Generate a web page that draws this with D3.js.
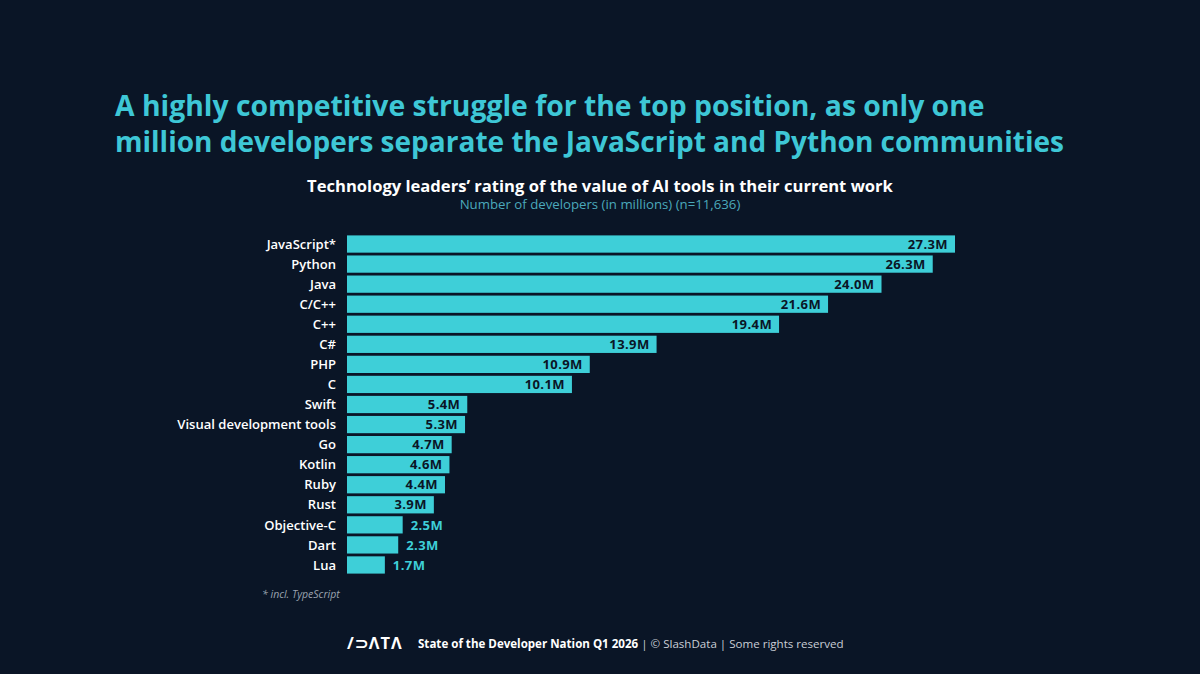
<!DOCTYPE html>
<html>
<head>
<meta charset="utf-8">
<script src="https://cdn.jsdelivr.net/npm/d3@7"></script>
<style>
  html, body { margin: 0; padding: 0; background: #0a1526; }
  svg { display: block; }
</style>
</head>
<body>
<div id="chart"></div>
<script>
// data
const languages = ['JavaScript*', 'Python', 'Java', 'C/C++', 'C++', 'C#', 'PHP', 'C', 'Swift',
    'Visual development tools', 'Go', 'Kotlin', 'Ruby', 'Rust', 'Objective-C', 'Dart', 'Lua'];
const developers = [27.3, 26.3, 24.0, 21.6, 19.4, 13.9, 10.9, 10.1, 5.4, 5.3, 4.7, 4.6, 4.4, 3.9, 2.5, 2.3, 1.7];
const titleLines = [
    'A highly competitive struggle for the top position, as only one',
    'million developers separate the JavaScript and Python communities'
];
const chartTitle = 'Technology leaders\u2019 rating of the value of AI tools in their current work';
const chartSubtitle = 'Number of developers (in millions) (n=11,636)';
const footnote = '* incl. TypeScript';

const W = 1200, H = 674;
const bg = '#0a1526', cyan = '#3ecfd8', titleCyan = '#3ec7d6';
const font = '"Open Sans", "Noto Sans", sans-serif';

const svg = d3.select('#chart').append('svg')
    .attr('width', W)
    .attr('height', H)
    .attr('viewBox', `0 0 ${W} ${H}`);

svg.append('rect').attr('width', W).attr('height', H).attr('fill', bg);

// fit a text element to a given width by nudging its font size
function fitWidth(sel, target) {
    const size = parseFloat(sel.attr('font-size'));
    const len = sel.node().getComputedTextLength();
    const s = size * target / len;
    sel.attr('font-size', s.toFixed(2));
    return s;
}

//************** TITLES ******************//
const t1 = svg.append('text').attr('x', 115).attr('y', 116)
    .attr('font-family', font).attr('font-weight', 700).attr('font-size', 26)
    .attr('fill', titleCyan).text(titleLines[0]);
fitWidth(t1, 870);
const t2 = svg.append('text').attr('x', 115).attr('y', 152)
    .attr('font-family', font).attr('font-weight', 700).attr('font-size', 26)
    .attr('fill', titleCyan).text(titleLines[1]);
fitWidth(t2, 949);

const ct = svg.append('text').attr('x', 600).attr('y', 192).attr('text-anchor', 'middle')
    .attr('font-family', font).attr('font-weight', 700).attr('font-size', 16)
    .attr('fill', '#ffffff').text(chartTitle);
fitWidth(ct, 586);

const st = svg.append('text').attr('x', 600).attr('y', 209).attr('text-anchor', 'middle')
    .attr('font-family', font).attr('font-size', 12)
    .attr('fill', '#4aa9bb').text(chartSubtitle);
fitWidth(st, 281);

//************** SCALES ******************//
const xScale = d3.scaleLinear()
    .domain([0, 27.3])
    .range([347, 955]);

const yScale = d3.scaleBand()
    .domain(languages)
    .range([234, 575])
    .paddingInner(0.14)
    .paddingOuter(0.07);

const rows = languages.map((k, i) => ({ key: k, value: developers[i] }));

// work out label sizes from the widest strings in the reference
const probe = svg.append('text').attr('font-family', font).attr('font-weight', 600)
    .attr('font-size', 12).text('Visual development tools');
const labelSize = fitWidth(probe, 159);
probe.attr('font-weight', 700).attr('font-size', 12).text('27.3M');
const valueSize = Math.min(fitWidth(probe, 40), 13);
probe.remove();

// category labels
svg.append('g').selectAll('text')
    .data(rows)
    .join('text')
    .attr('x', 336)
    .attr('y', d => yScale(d.key) + yScale.bandwidth() / 2)
    .attr('dy', '0.36em')
    .attr('text-anchor', 'end')
    .attr('font-family', font)
    .attr('font-weight', 600)
    .attr('font-size', labelSize)
    .attr('fill', '#ffffff')
    .text(d => d.key);

// bars
svg.append('g').selectAll('rect')
    .data(rows)
    .join('rect')
    .attr('x', xScale(0))
    .attr('y', d => yScale(d.key))
    .attr('width', d => xScale(d.value) - xScale(0))
    .attr('height', yScale.bandwidth())
    .attr('fill', cyan);

// value labels: inside the bar when it is long enough, otherwise after it
const inside = d => d.value >= 3.5;
svg.append('g').selectAll('text')
    .data(rows)
    .join('text')
    .attr('x', d => inside(d) ? xScale(d.value) - 7 : xScale(d.value) + 8)
    .attr('y', d => yScale(d.key) + yScale.bandwidth() / 2)
    .attr('dy', '0.36em')
    .attr('text-anchor', d => inside(d) ? 'end' : 'start')
    .attr('font-family', font)
    .attr('font-weight', 700)
    .attr('font-size', valueSize)
    .attr('letter-spacing', 0.4)
    .attr('fill', d => inside(d) ? '#0a1526' : cyan)
    .text(d => d.value.toFixed(1) + 'M');

// footnote
svg.append('text').attr('x', 262).attr('y', 598)
    .attr('font-family', font).attr('font-style', 'italic').attr('font-size', 10.5)
    .attr('fill', '#9aa3b0').text(footnote);

//************** FOOTER ******************//
const logo = svg.append('text').attr('x', 347).attr('y', 649)
    .attr('font-family', font).attr('font-weight', 700).attr('font-size', 17)
    .attr('letter-spacing', 1)
    .attr('fill', '#ffffff').text('/\u2283\u039BT\u039B');
fitWidth(logo, 56);

const foot = svg.append('text').attr('x', 418).attr('y', 648)
    .attr('font-family', font).attr('font-size', 12).attr('fill', '#ffffff');
foot.append('tspan').attr('font-weight', 700).text('State of the Developer Nation Q1 2026');
foot.append('tspan').attr('fill', '#c9ced6').text(' | \u00A9 SlashData | Some rights reserved');
fitWidth(foot, 426);
</script>
</body>
</html>
